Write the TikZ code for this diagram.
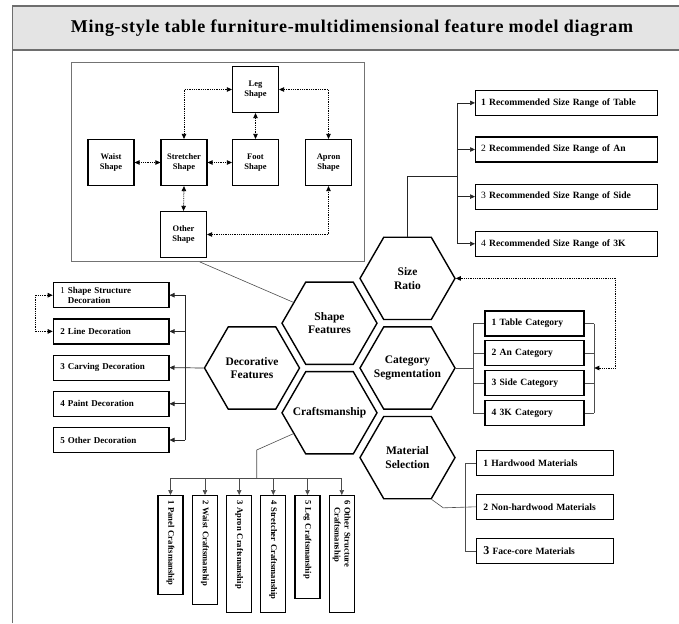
\documentclass[tikz,border=0pt]{standalone}
\usepackage{fontspec}
\setmainfont{Liberation Serif}
\newfontfamily\titlefont[LetterSpace=4]{Liberation Serif}
\usetikzlibrary{arrows.meta, positioning, shapes.geometric, calc}

\definecolor{bandgray}{HTML}{E4E4E4}
\definecolor{framegray}{HTML}{6E6E6E}

\begin{document}
\begin{tikzpicture}[x=1pt, y=-1pt,
  every node/.style={font=\bfseries},
  hexa/.style={regular polygon, regular polygon sides=6, minimum size=95pt, inner sep=0pt,
    draw, line width=1.4pt},
  hexlabel/.style={align=center, font=\fontsize{11.5}{13.5}\selectfont\bfseries},
  partbox/.style={draw, line width=1.2pt, minimum width=46pt, minimum height=46pt, inner sep=1pt,
    align=center, font=\fontsize{8.5}{10.5}\selectfont\bfseries},
  itembox/.style={draw, line width=1.2pt, minimum height=25pt, anchor=west, align=left,
    inner ysep=2pt, font=\fontsize{9.6}{11}\selectfont\bfseries},
  craftbox/.style={draw, line width=1.2pt, minimum height=25pt, rotate=-90, anchor=west,
    align=left, inner xsep=4.5pt, inner ysep=2pt, font=\fontsize{8.6}{10}\selectfont\bfseries},
  dotlink/.style={densely dotted, line width=0.8pt,
    {Triangle[length=5pt,width=4.5pt]}-{Triangle[length=5pt,width=4.5pt]}},
  link/.style={black!85, line width=0.7pt, -{Triangle[length=5pt,width=4.5pt]}},
  plainline/.style={black!70, line width=0.6pt}
]
\useasboundingbox (0,0) rectangle (679,623);

% frame and title band
\fill[bandgray] (12.5,6) rectangle (679,50);
\draw[framegray, line width=1.3pt] (12.5,623) -- (12.5,6) -- (679,6);
\draw[framegray, line width=1.3pt] (12.5,50) -- (679,50);
\node[font=\titlefont\bfseries\fontsize{18}{20}\selectfont] (title) at (352,28)
  {Ming-style table furniture-multidimensional feature model diagram};

% shape feature inset
\node[draw=black!55, line width=0.8pt, minimum width=293pt, minimum height=199pt, inner sep=0pt] (inset) at (218.3,162) {};
\node[partbox] (lg) at (255.5,89.5) {Leg\\Shape};
\node[partbox] (ws) at (111,162.5) {Waist\\Shape};
\node[partbox] (st) at (184,162.5) {Stretcher\\Shape};
\node[partbox] (ft) at (255.5,162.5) {Foot\\Shape};
\node[partbox] (ap) at (328.5,162.5) {Apron\\Shape};
\node[partbox] (ot) at (183.5,234.5) {Other\\Shape};
\draw[dotlink] (lg.west) -| (st.north);
\draw[dotlink] (lg.east) -| (ap.north);
\draw[dotlink] (lg.south) -- (ft.north);
\draw[dotlink] (ws.east) -- (st.west);
\draw[dotlink] (st.east) -- (ft.west);
\draw[dotlink] (st.south) -- (ot.north);
\draw[dotlink] (ot.east) -| (ap.south);

% honeycomb
\node[hexa, label={[hexlabel]center:Size\\Ratio}]             (sz)    at (407.5,278.4) {};
\node[hexa, label={[hexlabel]center:Shape\\Features}]         (shp)   at (329.5,323.2) {};
\node[hexa, label={[hexlabel]center:Decorative\\Features}]    (deco)  at (252,368)     {};
\node[hexa, label={[hexlabel]center:Category\\Segmentation}]  (cat)   at (407.5,368)   {};
\node[hexa, label={[hexlabel]center:Craftsmanship}]           (craft) at (329.5,412.8) {};
\node[hexa, label={[hexlabel]center:Material\\Selection}]     (mat)   at (407.5,457.6) {};

\draw[plainline] ($(inset.south west)!0.437!(inset.south east)$) -- (shp.150);

% size ratio
\foreach \i/\y/\t in {1/102.9/{1 Recommended Size Range of Table},
                      2/149.5/{\textmd{2} Recommended Size Range of An},
                      3/196.6/{\textmd{3} Recommended Size Range of Side},
                      4/243.8/{\textmd{4} Recommended Size Range of 3K}}{
  \node[itembox, inner xsep=5.5pt, text width=170.7pt] (s\i) at (475,\y) {\t};
}
\coordinate (szbus) at (457.3,176);
\draw[black!85, line width=0.7pt] (sz.north) |- (szbus);
\draw[black!85, line width=0.7pt] (szbus |- s1.west) -- (szbus |- s4.west);
\foreach \i in {1,...,4}
  \draw[link] (szbus |- s\i.west) -- (s\i.west);

% decorative features
\foreach \i/\y/\t in {1/295.2/{\textmd{1} Shape Structure\\\hphantom{1 }Decoration},
                      2/331.4/{2 Line Decoration},
                      3/367.6/{3 Carving Decoration},
                      4/403.8/{4 Paint Decoration},
                      5/440.0/{5 Other Decoration}}{
  \node[itembox, inner xsep=7pt, text width=101.6pt, font=\fontsize{9}{10}\selectfont\bfseries] (d\i) at (52.7,\y) {\t};
}
\coordinate (debus) at (185,368);
\draw[link] (deco.west) -- (d3.east);
\draw[black!85, line width=0.7pt] (debus |- d1.east) -- (debus |- d5.east);
\foreach \i in {1,2,4,5}
  \draw[link] (debus |- d\i.east) -- (d\i.east);
\draw[dotlink] (d1.west) -- ++(-17.7,0) |- (d2.west);

% category segmentation
\foreach \i/\y/\t in {1/323.5/{1 Table Category},
                      2/353.3/{2 An Category},
                      3/383.1/{3 Side Category},
                      4/412.9/{4 3K Category}}{
  \node[itembox, inner xsep=6.7pt, text width=85.6pt] (c\i) at (484.3,\y) {\t};
}
\coordinate (catL) at (473.3,368);
\coordinate (catR) at (594.3,368);
\coordinate (loopR) at (615.7,368);
\draw[plainline] (cat.east) -- (catL);
\draw[plainline] (catL |- c1.west) -- (catL |- c4.west);
\draw[plainline] (catR |- c1.east) -- (catR |- c4.east);
\foreach \i in {1,...,4}{
  \draw[plainline] (catL |- c\i.west) -- (c\i.west);
  \draw[plainline] (c\i.east) -- (catR |- c\i.east);
}
\draw[dotlink] (sz.east) -| (loopR) -- (catR);

% material selection
\foreach \i/\y/\t in {1/462.8/{1 Hardwood Materials},
                      2/506.8/{2 Non-hardwood Materials},
                      3/550.8/{{\fontsize{12}{11}\selectfont 3} Face-core Materials}}{
  \node[itembox, inner xsep=6.7pt, text width=123.3pt] (m\i) at (476,\y) {\t};
}
\coordinate (mbus) at (465,506.8);
\draw[plainline] (mat.-60) -- ++(11.6,8.4) -- (m2.west);
\draw[plainline] (m1.west) -| (mbus |- m3.west) -- (m3.west);

% craftsmanship
\coordinate (kbus) at (256.7,478.3);
\foreach \i/\x/\h/\t in {1/170.5/99/{1 Panel Craftsmanship},
                         2/205/109/{2 Waist Craftsmanship},
                         3/239.2/117/{3 Apron Craftsmanship},
                         4/273.3/117/{4 Stretcher Craftsmanship},
                         5/307.5/103/{5 Leg Craftsmanship},
                         6/341.8/117/{6 Other Structure\\\hphantom{6 }Craftsmanship}}{
  \pgfmathsetmacro\tw{\h-9}
  \node[craftbox, text width=\tw pt] (k\i) at (\x,495) {\t};
}
\draw[plainline] (craft.210) -- (kbus |- 0,450) -- (kbus);
\draw[plainline] (k1.west |- kbus) -- (k6.west |- kbus);
\foreach \i in {1,...,6}
  \draw[link, black!70] (k\i.west |- kbus) -- (k\i.west);
\end{tikzpicture}
\end{document}
